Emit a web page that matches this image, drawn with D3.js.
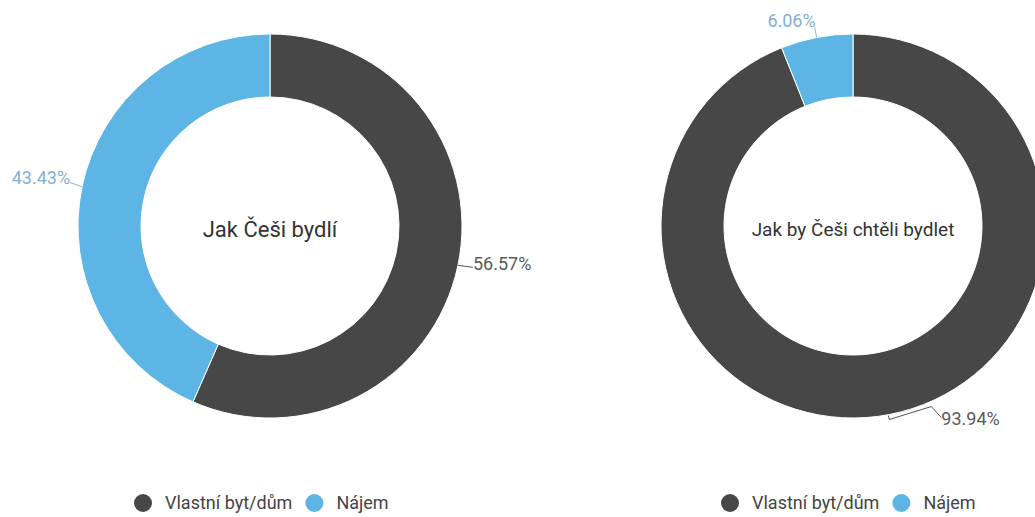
<!DOCTYPE html>
<html>
<head>
<meta charset="utf-8">
<script src="https://cdn.jsdelivr.net/npm/d3@7"></script>
<style>
  html, body { margin: 0; padding: 0; background: #fff; }
  svg { display: block; font-family: Roboto, "Noto Sans", sans-serif; }
</style>
</head>
<body>
<svg id="chart" width="1035" height="517"></svg>
<script>
// data
const categories = ["Vlastní byt/dům", "Nájem"];
const titles = ["Jak Češi bydlí", "Jak by Češi chtěli bydlet"];
const valuesNow = [56.57, 43.43];
const valuesWish = [93.94, 6.06];

const colors = ["#474747", "#5cb5e5"];
const labelColors = ["#5a5a5a", "#7fb0d6"];

const svg = d3.select("#chart");
const outerR = 192, innerR = 129;

const pie = d3.pie().sort(null).value(d => d);
const arc = d3.arc().innerRadius(innerR).outerRadius(outerR);

// leader line shapes, relative to the point on the outer edge
const leaders = [
  [ // left chart
    { pts: [[0, 0], [15, 2]], anchor: "start", dx: 15, dy: -2 },
    { pts: [[0, 0], [-12, -4]], anchor: "end", dx: -12, dy: -9 }
  ],
  [ // right chart
    { pts: [[-1, 1], [0, 5], [42, -8], [52, 3]], anchor: "start", dx: 52, dy: 4 },
    { pts: [[0, 0], [-2, -10]], anchor: "end", dx: -1, dy: -17 }
  ]
];

const charts = [
  { cx: 270, cy: 226, values: valuesNow, title: titles[0], titleSize: 22, legendX: 143 },
  { cx: 853, cy: 226, values: valuesWish, title: titles[1], titleSize: 19, legendX: 730 }
];

charts.forEach((c, ci) => {
  const g = svg.append("g").attr("transform", `translate(${c.cx},${c.cy})`);
  const arcs = pie(c.values);

  g.selectAll("path.slice")
    .data(arcs)
    .join("path")
    .attr("class", "slice")
    .attr("d", arc)
    .attr("fill", (d, i) => colors[i])
    .attr("stroke", "#fff")
    .attr("stroke-width", 1);

  g.append("text")
    .attr("text-anchor", "middle")
    .attr("y", 3)
    .attr("dy", "0.35em")
    .attr("font-size", c.titleSize)
    .attr("fill", "#333")
    .text(c.title);

  arcs.forEach((a, i) => {
    const mid = (a.startAngle + a.endAngle) / 2;
    const px = Math.sin(mid) * outerR;
    const py = -Math.cos(mid) * outerR;
    const L = leaders[ci][i];
    g.append("path")
      .attr("d", d3.line()(L.pts.map(p => [px + p[0], py + p[1]])))
      .attr("fill", "none")
      .attr("stroke", i === 0 ? "#555" : "#8fb4d2")
      .attr("stroke-width", 1);
    g.append("text")
      .attr("x", px + L.dx)
      .attr("y", py + L.dy)
      .attr("dy", "0.35em")
      .attr("text-anchor", L.anchor)
      .attr("font-size", 18)
      .attr("fill", labelColors[i])
      .text(d3.format(".2f")(a.data) + "%");
  });

  // legend
  const lg = svg.append("g").attr("transform", `translate(${c.legendX},503)`);
  let x = 0;
  categories.forEach((cat, i) => {
    lg.append("circle").attr("cx", x).attr("cy", 0).attr("r", 9).attr("fill", colors[i]);
    const t = lg.append("text")
      .attr("x", x + 22)
      .attr("dy", "0.35em")
      .attr("font-size", 18)
      .attr("fill", "#444")
      .text(cat);
    x += 22 + t.node().getComputedTextLength() + 22;
  });
});
</script>
</body>
</html>
